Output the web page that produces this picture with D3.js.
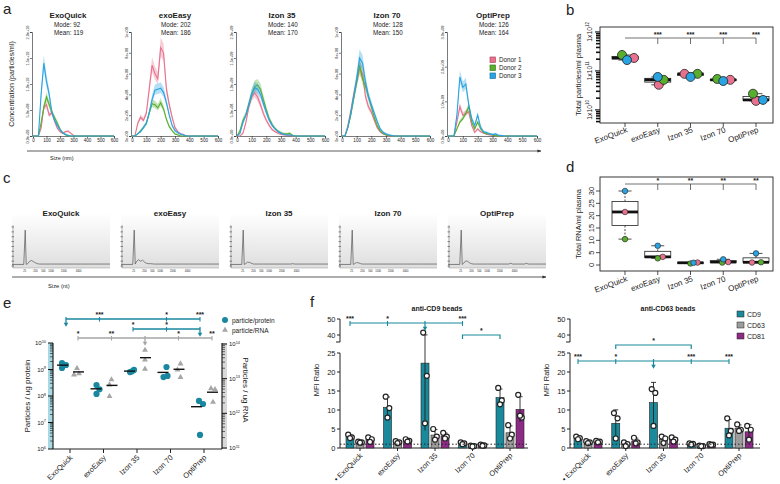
<!DOCTYPE html>
<html><head><meta charset="utf-8">
<script src="https://cdn.jsdelivr.net/npm/d3@7"></script>
<style>body{margin:0;background:#fff}svg{display:block}text{font-family:"Liberation Sans",Arial,sans-serif;fill:#222}</style>
</head><body><svg id="fig" width="780" height="484"></svg>
<script>
// ================= DATA =================
const methods = ["ExoQuick","exoEasy","Izon 35","Izon 70","OptiPrep"];
const donors = ["Donor 1","Donor 2","Donor 3"];
// (a) NTA size distributions, size in nm; rows = donor 1, 2, 3 (values in ntaUnit)
const ntaSizes = [0,20,40,60,80,100,120,140,160,180,200,220,240,260,280,300,320,340,360,380,400,500,600];
const ntaExoQuick = [
 [0,0,0,1.5,5.5,6,4,4.5,2.8,1.5,0.8,0.5,0.8,0.9,0.5,0.1,0,0,0,0,0,0,0],
 [0,0,0,2.5,5.5,7.5,6,4.5,3.5,2.5,1.3,0.6,0.2,0.1,0,0,0,0,0,0,0,0,0],
 [0,0,0,8,14,10.5,8,4.5,3,2,1.2,0.6,0.3,0.1,0,0,0,0,0,0,0,0,0]];
const ntaExoEasy = [
 [0,0,1.2,1.8,1.5,2.2,4.5,6.8,6,5.5,8.5,8,4.5,3,1.8,0.8,0.4,0.2,0.1,0,0,0,0],
 [0,0,0.2,0.5,0.8,1.2,2.2,3.1,3.0,2.7,3.2,2.6,1.6,0.9,0.5,0.2,0.1,0,0,0,0,0,0],
 [0,0,0.2,0.4,0.8,1.2,2.2,3.5,4.4,4.5,4.6,4.2,3.2,2.0,1.0,0.5,0.3,0.15,0.1,0,0,0,0]];
const ntaIzon35 = [
 [0,0,0.5,2.5,5.5,7.5,8.3,7.5,6,4.3,3,2,1.2,0.8,0.5,0.3,0.2,0.15,0.1,0,0,0,0],
 [0,1,3,4,6,8,9.5,9.8,9,7,5,3.3,2.2,1.4,0.9,0.6,0.4,0.4,0.5,0.1,0,0,0],
 [0,0.5,2.5,4,6,8,9.3,9.0,8,6.2,4.5,3,2,1.3,0.8,0.5,0.3,0.2,0.2,0.05,0,0,0]];
const ntaIzon70 = [
 [0,0,1.0,2.4,4.0,5.2,6.5,6.0,3.8,2.8,2.3,1.5,0.8,0.4,0.2,0.1,0,0,0,0,0,0,0],
 [0,0,0.8,2.0,3.6,5.2,6.8,5.5,4.8,3.8,2.8,1.8,1.0,0.5,0.25,0.1,0.05,0,0,0,0,0,0],
 [0,0,0.8,2.2,3.8,5.5,7.5,7.0,5.2,3.8,3.0,2.2,1.4,0.7,0.35,0.2,0.1,0.05,0,0,0,0,0]];
const ntaOptiPrep = [
 [0,0,0,4,8.5,6,6.5,7,3,1,2,1.2,0.8,0.5,0.3,0.2,0.1,0,0,0,0,0,0],
 [0,0,0,2,4,5,6.5,8.5,4,2,4,2,1,0.6,0.6,0.3,0.1,0,0,0,0,0,0],
 [0,0,0,6,17,14,15,9,5,3,6,2.5,1.2,1.0,0.6,0.4,0.6,0.2,0.1,0,0,0,0]];
const ntaUnit = [1e9,1e8,1e8,1e8,1e8];
const ntaYMax = [2e10,1e9,2e9,1e9,3e9];
const ntaYStep = [5e9,2e8,5e8,2e8,1e9];
const ntaModes = [92,202,140,128,126];
const ntaMeans = [119,186,170,150,164];

// (b) total particles / ml plasma; rows = method, cols = donor 1,2,3
const totalParticles = [
 [2.15e11,2.57e11,1.9e11],
 [4.4e10,5.9e10,7.0e10],
 [8.4e10,8.4e10,7.0e10],
 [5.9e10,6.2e10,5.5e10],
 [1.7e10,2.6e10,1.8e10]];
const particleStars = ["***","***","***","***"];

// (c) Bioanalyzer traces (relative migration position 0-100, fluorescence 0-100)
const traceX = [0,12,13.5,14.5,16,18,20,22,24,26,28,30,34,40,55,62,64,66,70,78,80,82,86,100];
const traceExoQuick = [4,4,92,4,6,12,14,11,8,6,5,5,5,5,5,5,5,5,5,5,5,5,5,5];
const traceExoEasy  = [4,4,92,5,12,16,12,15,10,7,6,6,5,5,5,5,5,5,5,5,5,5,5,5];
const traceIzon35   = [4,4,92,4,6,10,9,7,5,5,5,5,5,5,5,5,6,5,5,5,5,5,5,5];
const traceIzon70   = [4,4,92,4,6,9,8,6,5,5,5,5,5,5,5,5,5,5,5,5,5,5,5,5];
const traceOptiPrep = [4,4,92,4,7,13,12,8,6,5,5,5,5,5,5,5,7,5,5,5,7,5,5,5];
const traceTickLabels = ["25","200","500","1000","2000","4000"];

// (d) total RNA / ml plasma; rows = method, cols = donor 1,2,3
const totalRNA = [
 [21.5,10.5,30],
 [3.3,2.7,7.8],
 [1.0,0.6,0.9],
 [1.2,1.0,2.3],
 [1.0,1.1,4.7]];
const rnaStars = ["*","**","**","**"];

// (e) particles per ug protein / per ug RNA
const perProtein = [
 [1.76e9,1.48e9,1.14e9],
 [2.6e8,1.8e8,1.2e8],
 [8.0e8,9.6e8,8.5e8],
 [1.24e9,5.2e8,5.7e8],
 [6.5e7,5.0e7,3.4e6]];
const perRNA = [
 [2.0e13,1.3e13,1.4e13],
 [9.4e12,6.7e12,3.1e12],
 [6.7e13,3.5e13,1.9e13],
 [2.7e13,1.8e13,1.1e13],
 [5.2e12,4.9e12,2.1e12]];
const proteinBrackets = [
 {src:0, targets:[1,3,4], stars:["***","*","***"]},
 {src:4, targets:[2,3], stars:["*","*"]}];
const rnaBrackets = [
 {src:2, targets:[0,1,3,4], stars:["*","**","*","**"]}];

// (f) MFI ratios; rows = method, values per replicate
const markers = ["CD9","CD63","CD81"];
const cd9BeadsCD9  = [[3.5,2.8,2.6],[13.5,10.5,8.0],[41.5,19,6.5],[1.5,1.2,1.0],[15.8,12.5,11.5]];
const cd9BeadsCD63 = [[1.7,1.5,1.4],[1.8,1.5,1.3],[5.0,3.0,2.2],[0.6,0.5,0.4],[6.0,3.5,2.5]];
const cd9BeadsCD81 = [[2.8,2.3,1.6],[2.3,1.9,1.7],[4.0,3.0,2.5],[0.9,0.7,0.6],[14,8.0,8.5]];
const cd63BeadsCD9  = [[3.0,2.6,2.3],[9.2,7.8,2.5],[15.5,14.5,5.8],[1.2,1.1,0.9],[7.8,4.5,3.3]];
const cd63BeadsCD63 = [[1.8,1.5,1.3],[1.5,1.0,0.5],[3.0,2.5,1.3],[0.6,0.5,0.5],[6.2,4.8,4.5]];
const cd63BeadsCD81 = [[1.9,1.7,1.5],[2.7,1.5,1.2],[2.8,2.2,1.7],[1.0,0.9,0.8],[5.8,4.8,2.2]];
const cd9BeadBrackets = [
 {src:2, targets:[0,1,3], stars:["***","*","***"]},
 {pair:[3,4], star:"*"}];
const cd63BeadBrackets = [
 {src:2, targets:[0,1,3,4], stars:["***","*","***","***"]},
 {pair:[1,3], star:"*"}];

// ================= DRAWING =================
const svg = d3.select("#fig");
const donorColors = ["#e8728e","#5aae2e","#29a3e1"];
const donorStroke = ["#b04862","#3d7f1c","#1a76a8"];
const teal = "#1a899b", grayBar = "#9c9c9c", purple = "#8c2a85";
const eBlue = "#1a87a0", eGray = "#a6a6a6";

function panelLabel(t,x,y){ svg.append("text").attr("x",x).attr("y",y).attr("font-size",15).text(t); }
function powText(g,x,y,base,exp,size,anchor,rot){
  const t=g.append("text").attr("x",x).attr("y",y).attr("font-size",size).attr("text-anchor",anchor||"start");
  if(rot) t.attr("transform",`rotate(${rot},${x},${y})`);
  t.append("tspan").text(base);
  t.append("tspan").attr("dy",-size*0.4).attr("font-size",size*0.65).text(exp);
  return t;
}
function sciFmt(dec){
  return v=>{
    if(v===0) return dec?"0.0e+00":"0e+00";
    const e=Math.floor(Math.log10(v)+1e-9), m=v/Math.pow(10,e);
    return (dec?m.toFixed(1):m.toFixed(0))+"e+"+String(e).padStart(2,"0");
  };
}
function styleAxis(s,fs,sw){
  s.selectAll("text").attr("font-size",fs).attr("fill","#222");
  s.selectAll("line,path").attr("stroke","#222").attr("stroke-width",sw||0.8);
}
const defs=svg.append("defs");
defs.append("marker").attr("id","arr").attr("viewBox","0 0 10 10").attr("refX",9).attr("refY",5)
  .attr("markerWidth",5).attr("markerHeight",5).attr("orient","auto")
  .append("path").attr("d","M0,1L10,5L0,9Z").attr("fill","#333");
const grad=defs.append("linearGradient").attr("id","bag").attr("x1",0).attr("x2",0).attr("y1",0).attr("y2",1);
grad.append("stop").attr("offset","0%").attr("stop-color","#ffffff");
grad.append("stop").attr("offset","100%").attr("stop-color","#dedede");

// ---------- (a) ----------
panelLabel("a",3,14);
const aX0=[33,132,237,342,448], aW=[81,86,88,88,89], aTop=32, aBot=136;
const aTitleX=[68,175,282,387,493], aDec=[true,false,true,false,true];
const ntaSets=[ntaExoQuick,ntaExoEasy,ntaIzon35,ntaIzon70,ntaOptiPrep];
methods.forEach((m,i)=>{
  const x=d3.scaleLinear([0,600],[aX0[i],aX0[i]+aW[i]]);
  const y=d3.scaleLinear([0,ntaYMax[i]],[aBot,aTop]);
  const g=svg.append("g");
  g.append("text").attr("x",aTitleX[i]).attr("y",18).attr("text-anchor","middle").attr("font-size",8).attr("font-weight","bold").text(m);
  g.append("text").attr("x",aTitleX[i]-14).attr("y",27).attr("font-size",6.3).text("Mode: "+ntaModes[i]);
  g.append("text").attr("x",aTitleX[i]-14).attr("y",34.5).attr("font-size",6.3).text("Mean: "+ntaMeans[i]);
  g.append("g").attr("transform",`translate(0,${aBot})`)
    .call(d3.axisBottom(x).tickValues(d3.range(0,601,100)).tickSize(2).tickPadding(1).tickFormat(d3.format("d")))
    .call(s=>styleAxis(s,4.6,0.6));
  const ya=g.append("g").attr("transform",`translate(${aX0[i]-1},0)`)
    .call(d3.axisLeft(y).tickValues(d3.range(0,ntaYMax[i]*1.0001,ntaYStep[i])).tickSize(2).tickFormat(sciFmt(aDec[i])))
    .call(s=>styleAxis(s,3.8,0.6));
  ya.selectAll(".tick text").attr("x",0).attr("y",-3).attr("dy",0).attr("text-anchor","middle").attr("transform","rotate(-90)");
  ntaSets[i].forEach((vals,d)=>{
    const pts=ntaSizes.map((s,k)=>[s,vals[k]*ntaUnit[i]]);
    g.append("path").datum(pts).attr("fill",donorColors[d]).attr("opacity",0.35)
      .attr("d",d3.area().x(p=>x(p[0])).y0(p=>y(p[1]*0.9)).y1(p=>y(p[1]*1.1+(p[1]>0?ntaYMax[i]*0.01:0))));
    g.append("path").datum(pts).attr("fill","none").attr("stroke",donorColors[d]).attr("stroke-width",1.1)
      .attr("d",d3.line().x(p=>x(p[0])).y(p=>y(p[1])));
  });
});
svg.append("text").attr("transform","translate(14,84) rotate(-90)").attr("text-anchor","middle").attr("font-size",7).text("Concentration (particles/ml)");
svg.append("line").attr("x1",27).attr("x2",541).attr("y1",151).attr("y2",151).attr("stroke","#333").attr("stroke-width",0.8).attr("marker-end","url(#arr)");
svg.append("text").attr("x",50).attr("y",160).attr("font-size",5.5).text("Size (nm)");
const aLeg=svg.append("g");
donors.forEach((d,k)=>{
  aLeg.append("rect").attr("x",490).attr("y",57+k*8).attr("width",5.5).attr("height",5.5).attr("fill",donorColors[k]).attr("stroke",donorStroke[k]).attr("stroke-width",0.7);
  aLeg.append("text").attr("x",499).attr("y",62+k*8).attr("font-size",6.3).text(d);
});

// ---------- (b) ----------
panelLabel("b",566,15);
function rBox(g,vals,cx,y,w){
  const s=vals.slice().sort(d3.ascending);
  const lo=(s[0]+s[1])/2, hi=(s[1]+s[2])/2, med=s[1];
  g.append("line").attr("x1",cx).attr("x2",cx).attr("y1",y(hi)).attr("y2",y(s[2])).attr("stroke","#222").attr("stroke-width",0.8).attr("stroke-dasharray","2,1.5");
  g.append("line").attr("x1",cx).attr("x2",cx).attr("y1",y(lo)).attr("y2",y(s[0])).attr("stroke","#222").attr("stroke-width",0.8).attr("stroke-dasharray","2,1.5");
  g.append("line").attr("x1",cx-w/4).attr("x2",cx+w/4).attr("y1",y(s[2])).attr("y2",y(s[2])).attr("stroke","#222").attr("stroke-width",0.8);
  g.append("line").attr("x1",cx-w/4).attr("x2",cx+w/4).attr("y1",y(s[0])).attr("y2",y(s[0])).attr("stroke","#222").attr("stroke-width",0.8);
  g.append("rect").attr("x",cx-w/2).attr("y",y(hi)).attr("width",w).attr("height",Math.max(0.5,y(lo)-y(hi))).attr("fill","#fff").attr("stroke","#222").attr("stroke-width",0.8);
  g.append("line").attr("x1",cx-w/2).attr("x2",cx+w/2).attr("y1",y(med)).attr("y2",y(med)).attr("stroke","#111").attr("stroke-width",2.8);
}
function starBracket(g,xs,yLine,stars,x0){
  g.append("line").attr("x1",x0).attr("x2",xs[xs.length-1]).attr("y1",yLine).attr("y2",yLine).attr("stroke","#333").attr("stroke-width",0.7);
  xs.forEach((x,k)=>{
    g.append("line").attr("x1",x).attr("x2",x).attr("y1",yLine).attr("y2",yLine+6).attr("stroke","#333").attr("stroke-width",0.7);
    g.append("text").attr("x",x).attr("y",yLine-1.5).attr("text-anchor","middle").attr("font-size",7).attr("font-weight","bold").text(stars[k]);
  });
}
{
  const L=600,R=773,T=27,B=123;
  const g=svg.append("g");
  const x=d3.scalePoint(methods,[625,756]);
  const y=d3.scaleLog([4.6e9,1.34e12],[B,T]);
  const bJit=[[9,-3,2],[1,6,0],[-6,7,0],[7,-6,0],[0,-3,7]];
  g.append("rect").attr("x",L).attr("y",T).attr("width",R-L).attr("height",B-T).attr("fill","none").attr("stroke","#222").attr("stroke-width",0.9);
  [1e10,1e11,1e12].forEach(v=>{
    g.append("line").attr("x1",L-5).attr("x2",L).attr("y1",y(v)).attr("y2",y(v)).attr("stroke","#222").attr("stroke-width",1.2);
    powText(g,L-8,y(v),"1x10",String(Math.log10(v)),6.8,"middle",-90);
  });
  [1e9,1e10,1e11].forEach(dec=>d3.range(2,10).forEach(k=>{
    const v=dec*k; if(v<4.6e9||v>1.34e12) return;
    g.append("line").attr("x1",L-4).attr("x2",L).attr("y1",y(v)).attr("y2",y(v)).attr("stroke","#111").attr("stroke-width",1.6);
  }));
  g.append("text").attr("transform",`translate(581,75) rotate(-90)`).attr("text-anchor","middle").attr("font-size",7.5).text("Total particles/ml plasma");
  methods.forEach((m,i)=>{
    g.append("line").attr("x1",x(m)).attr("x2",x(m)).attr("y1",B).attr("y2",B+4).attr("stroke","#222").attr("stroke-width",0.8);
    g.append("text").attr("transform",`translate(${x(m)+3},${B+9}) rotate(-20)`).attr("text-anchor","end").attr("font-size",8).text(m);
    rBox(g,totalParticles[i],x(m),y,26);
  });
  starBracket(g,methods.slice(1).map(m=>x(m)),38,particleStars,x(methods[0]));
  methods.forEach((m,i)=>totalParticles[i].forEach((v,d)=>{
    g.append("circle").attr("cx",x(m)+bJit[i][d]).attr("cy",y(v)).attr("r",4.5).attr("fill",donorColors[d]).attr("stroke","#222").attr("stroke-width",0.8);
  }));
}

// ---------- (c) ----------
panelLabel("c",3,183);
{
  const cX0=[12,121,230,339,448], cW=98, cT=225, cB=268;
  const traces=[traceExoQuick,traceExoEasy,traceIzon35,traceIzon70,traceOptiPrep];
  const tickPos=[13,24,32,40,53,68];
  methods.forEach((m,i)=>{
    const g=svg.append("g");
    const x=d3.scaleLinear([0,100],[cX0[i],cX0[i]+cW]);
    const y=d3.scaleLinear([0,100],[266,227]);
    g.append("rect").attr("x",cX0[i]).attr("y",cT-12).attr("width",cW).attr("height",cB-cT+12).attr("fill","url(#bag)");
    g.append("text").attr("x",cX0[i]+cW/2).attr("y",216).attr("text-anchor","middle").attr("font-size",8).attr("font-weight","bold").text(m);
    g.append("line").attr("x1",cX0[i]+1).attr("x2",cX0[i]+1).attr("y1",cT).attr("y2",cB).attr("stroke","#777").attr("stroke-width",0.5);
    g.append("line").attr("x1",cX0[i]+1).attr("x2",cX0[i]+cW).attr("y1",cB).attr("y2",cB).attr("stroke","#999").attr("stroke-width",0.5);
    d3.range(0,101,12.5).forEach(v=>g.append("line").attr("x1",cX0[i]-0.5).attr("x2",cX0[i]+2).attr("y1",y(v)).attr("y2",y(v)).attr("stroke","#444").attr("stroke-width",0.6));
    tickPos.forEach((p,k)=>g.append("text").attr("x",x(p)).attr("y",cB+3.5).attr("text-anchor","middle").attr("font-size",2.6).attr("fill","#555").text(traceTickLabels[k]));
    g.append("path").datum(traceX.map((t,k)=>[t,traces[i][k]])).attr("fill","none").attr("stroke","#555").attr("stroke-width",0.7)
      .attr("d",d3.line().x(p=>x(p[0])).y(p=>y(p[1])));
  });
  svg.append("line").attr("x1",12).attr("x2",546).attr("y1",277).attr("y2",277).attr("stroke","#333").attr("stroke-width",0.8).attr("marker-end","url(#arr)");
  svg.append("text").attr("x",48).attr("y",288).attr("font-size",5.8).text("Size (nt)");
}

// ---------- (d) ----------
panelLabel("d",566,172);
{
  const L=600,R=773,T=177,B=271;
  const g=svg.append("g");
  const x=d3.scalePoint(methods,[625,756]);
  const y=d3.scaleLinear([0,30],[265,191]);
  const dJit=[[0,0,0],[5,0,0],[7,0,3],[5,-1,0],[-4,5,0]];
  g.append("rect").attr("x",L).attr("y",T).attr("width",R-L).attr("height",B-T).attr("fill","none").attr("stroke","#222").attr("stroke-width",0.9);
  y.ticks(6).forEach(v=>{
    g.append("line").attr("x1",L-4).attr("x2",L).attr("y1",y(v)).attr("y2",y(v)).attr("stroke","#222").attr("stroke-width",0.8);
    g.append("text").attr("transform",`translate(${L-6},${y(v)}) rotate(-90)`).attr("text-anchor","middle").attr("font-size",7.5).text(v);
  });
  g.append("text").attr("transform",`translate(581,224) rotate(-90)`).attr("text-anchor","middle").attr("font-size",7.5).text("Total RNA/ml plasma");
  methods.forEach((m,i)=>{
    g.append("line").attr("x1",x(m)).attr("x2",x(m)).attr("y1",B).attr("y2",B+4).attr("stroke","#222").attr("stroke-width",0.8);
    g.append("text").attr("transform",`translate(${x(m)+3},${B+10}) rotate(-20)`).attr("text-anchor","end").attr("font-size",8).text(m);
    rBox(g,totalRNA[i],x(m),y,26);
  });
  starBracket(g,methods.slice(1).map(m=>x(m)),184,rnaStars,x(methods[0]));
  methods.forEach((m,i)=>totalRNA[i].forEach((v,d)=>{
    g.append("circle").attr("cx",x(m)+dJit[i][d]).attr("cy",y(v)).attr("r",2.8).attr("fill",donorColors[d]).attr("stroke","#222").attr("stroke-width",0.6);
  }));
}

// ---------- (e) ----------
panelLabel("e",3,308);
{
  const L=53,R=222,T=343,B=449;
  const g=svg.append("g");
  const x=d3.scalePoint(methods,[70,204]);
  const yL=d3.scaleLog([1e6,1e10],[449,343]);
  const yR=d3.scaleLog([1e11,1e14],[448,344]);
  const cOff=[[-8,-4,-8],[-7,-4,-7],[-7,-3,-5],[-4,-7,-3],[-5,-1,-4]];
  const tOff=[[7,4,9],[8,6,6],[8,8,8],[10,7,10],[7,11,9]];
  g.append("rect").attr("x",L-5).attr("y",T).attr("width",5).attr("height",B-T).attr("fill","#a7d8e3");
  g.append("rect").attr("x",R).attr("y",T).attr("width",5).attr("height",B-T).attr("fill","#d8d8d8");
  g.append("line").attr("x1",L).attr("x2",L).attr("y1",T).attr("y2",B).attr("stroke","#222").attr("stroke-width",1.2);
  g.append("line").attr("x1",R).attr("x2",R).attr("y1",T).attr("y2",B).attr("stroke","#222").attr("stroke-width",1.2);
  g.append("line").attr("x1",L).attr("x2",R).attr("y1",B).attr("y2",B).attr("stroke","#222").attr("stroke-width",1.2);
  [1e6,1e7,1e8,1e9,1e10].forEach(v=>{
    g.append("line").attr("x1",L-5).attr("x2",L).attr("y1",yL(v)).attr("y2",yL(v)).attr("stroke","#111").attr("stroke-width",1);
    powText(g,L-7,yL(v)+2,"10",String(Math.log10(v)),6,"end");
    if(v<1e10) d3.range(2,10).forEach(k=>g.append("line").attr("x1",L-3).attr("x2",L).attr("y1",yL(v*k)).attr("y2",yL(v*k)).attr("stroke","#111").attr("stroke-width",0.6));
  });
  [1e11,1e12,1e13,1e14].forEach(v=>{
    g.append("line").attr("x1",R).attr("x2",R+5).attr("y1",yR(v)).attr("y2",yR(v)).attr("stroke","#111").attr("stroke-width",1);
    powText(g,R+7,yR(v)+2,"10",String(Math.log10(v)),6,"start");
    if(v<1e14) d3.range(2,10).forEach(k=>g.append("line").attr("x1",R).attr("x2",R+3).attr("y1",yR(v*k)).attr("y2",yR(v*k)).attr("stroke","#111").attr("stroke-width",0.6));
  });
  g.append("text").attr("transform","translate(30,396) rotate(-90)").attr("text-anchor","middle").attr("font-size",8).text("Particles / ug protein");
  g.append("text").attr("transform","translate(243,390) rotate(90)").attr("text-anchor","middle").attr("font-size",8).text("Particles / ug RNA");
  methods.forEach((m,i)=>{
    g.append("line").attr("x1",x(m)).attr("x2",x(m)).attr("y1",B).attr("y2",B+4).attr("stroke","#222").attr("stroke-width",1);
    g.append("text").attr("transform",`translate(${x(m)+3},${B+9}) rotate(-45)`).attr("text-anchor","end").attr("font-size",7.5).text(m);
    perProtein[i].forEach((v,d)=>g.append("circle").attr("cx",x(m)+cOff[i][d]).attr("cy",yL(v)).attr("r",3.1).attr("fill",eBlue));
    perRNA[i].forEach((v,d)=>g.append("path").attr("transform",`translate(${x(m)+tOff[i][d]},${yR(v)})`).attr("d",d3.symbol(d3.symbolTriangle,15)()).attr("fill",eGray));
    const mp=d3.mean(perProtein[i]), mr=d3.mean(perRNA[i]);
    g.append("line").attr("x1",x(m)-13).attr("x2",x(m)-2).attr("y1",yL(mp)).attr("y2",yL(mp)).attr("stroke","#111").attr("stroke-width",1.4);
    g.append("line").attr("x1",x(m)+3).attr("x2",x(m)+14).attr("y1",yR(mr)).attr("y2",yR(mr)).attr("stroke","#111").attr("stroke-width",1.4);
  });
  function eBracket(br,yLine,col,off){
    const xs=[br.src].concat(br.targets).map(k=>x(methods[k])+off);
    g.append("line").attr("x1",d3.min(xs)).attr("x2",d3.max(xs)).attr("y1",yLine).attr("y2",yLine).attr("stroke",col).attr("stroke-width",1.3);
    g.append("line").attr("x1",x(methods[br.src])+off).attr("x2",x(methods[br.src])+off).attr("y1",yLine-2).attr("y2",yLine+6).attr("stroke",col).attr("stroke-width",1.3);
    g.append("path").attr("transform",`translate(${x(methods[br.src])+off},${yLine+5}) rotate(180)`).attr("d",d3.symbol(d3.symbolTriangle,9)()).attr("fill",col);
    br.targets.forEach((k,j)=>{
      const xx=x(methods[k])+off;
      g.append("line").attr("x1",xx).attr("x2",xx).attr("y1",yLine-2).attr("y2",yLine+2.5).attr("stroke",col).attr("stroke-width",1.1);
      g.append("text").attr("x",xx).attr("y",yLine-2.5).attr("text-anchor","middle").attr("font-size",7).attr("font-weight","bold").text(br.stars[j]);
    });
  }
  eBracket(proteinBrackets[0],319,eBlue,-4);
  eBracket(proteinBrackets[1],329,eBlue,-4);
  eBracket(rnaBrackets[0],338,eGray,8);
  g.append("circle").attr("cx",225).attr("cy",320).attr("r",3).attr("fill",eBlue);
  g.append("text").attr("x",232).attr("y",322.5).attr("font-size",6.5).text("particle/protein");
  g.append("path").attr("transform","translate(225,330)").attr("d",d3.symbol(d3.symbolTriangle,15)()).attr("fill",eGray);
  g.append("text").attr("x",232).attr("y",332.5).attr("font-size",6.5).text("particle/RNA");
}

// ---------- (f) ----------
panelLabel("f",310,307);
function barChart(x0,x1,range,title,sets,brackets){
  const g=svg.append("g");
  const x=d3.scalePoint(methods,range);
  const yL=d3.scaleLinear([0,25],[448,353]);
  const yU=d3.scaleLinear([40,50],[335,319]);
  const yF=v=>v<=25?yL(v):yU(v);
  const B=448;
  g.append("text").attr("x",(x0+x1)/2+3).attr("y",311).attr("text-anchor","middle").attr("font-size",7).attr("font-weight","bold").text(title);
  g.append("line").attr("x1",x0).attr("x2",x0).attr("y1",319).attr("y2",342).attr("stroke","#222").attr("stroke-width",1);
  g.append("line").attr("x1",x0-4).attr("x2",x0).attr("y1",342).attr("y2",342).attr("stroke","#222").attr("stroke-width",1);
  g.append("line").attr("x1",x0).attr("x2",x0).attr("y1",353).attr("y2",B).attr("stroke","#222").attr("stroke-width",1);
  g.append("line").attr("x1",x0).attr("x2",x1).attr("y1",B).attr("y2",B).attr("stroke","#222").attr("stroke-width",1);
  [0,5,10,15,20,25,40,50].forEach(v=>{
    g.append("line").attr("x1",x0-3).attr("x2",x0).attr("y1",yF(v)).attr("y2",yF(v)).attr("stroke","#222").attr("stroke-width",1);
    g.append("text").attr("x",x0-4.5).attr("y",yF(v)+2.6).attr("text-anchor","end").attr("font-size",7.5).text(v);
  });
  g.append("text").attr("transform",`translate(${x0-21},380) rotate(-90)`).attr("text-anchor","middle").attr("font-size",7.5).text("MFI Ratio");
  const cols=[teal,grayBar,purple], offs=[-10,0,10], jit=[-1.8,1.8,0];
  methods.forEach((m,i)=>{
    g.append("line").attr("x1",x(m)).attr("x2",x(m)).attr("y1",B).attr("y2",B+3).attr("stroke","#222").attr("stroke-width",1);
    g.append("text").attr("transform",`translate(${x(m)+3},${B+8}) rotate(-45)`).attr("text-anchor","end").attr("font-size",7.5).text((i===0?"• ":"")+m);
    sets.forEach((set,s)=>{
      const vals=set[i], mu=d3.mean(vals), sd=d3.deviation(vals), cx=x(m)+offs[s];
      g.append("rect").attr("x",cx-4).attr("y",yF(mu)).attr("width",8).attr("height",B-yF(mu)).attr("fill",cols[s]).attr("stroke","#222").attr("stroke-width",0.6);
      g.append("line").attr("x1",cx).attr("x2",cx).attr("y1",yF(mu+sd)).attr("y2",yF(Math.max(0,mu-sd))).attr("stroke","#222").attr("stroke-width",0.9);
      g.append("line").attr("x1",cx-2.5).attr("x2",cx+2.5).attr("y1",yF(mu+sd)).attr("y2",yF(mu+sd)).attr("stroke","#222").attr("stroke-width",0.9);
      vals.forEach((v,k)=>g.append("circle").attr("cx",cx+jit[k]).attr("cy",yF(v)).attr("r",2.5).attr("fill","#fff").attr("stroke","#222").attr("stroke-width",1.2));
    });
  });
  g.append("line").attr("x1",x0).attr("x2",x1).attr("y1",yL(1)).attr("y2",yL(1)).attr("stroke","#222").attr("stroke-width",1).attr("stroke-dasharray","1.5,2");
  brackets.forEach(br=>{
    if(br.pair){
      const xa=x(methods[br.pair[0]])-10, xb=x(methods[br.pair[1]])-10, yy=br.y;
      g.append("path").attr("d",`M${xa},${yy+4}V${yy}H${xb}V${yy+4}`).attr("fill","none").attr("stroke",teal).attr("stroke-width",1.2);
      g.append("text").attr("x",(xa+xb)/2).attr("y",yy-2).attr("text-anchor","middle").attr("font-size",7).attr("font-weight","bold").text(br.star);
    } else {
      const yy=br.y;
      const xs=[br.src].concat(br.targets).map(k=>x(methods[k])-10);
      g.append("line").attr("x1",d3.min(xs)).attr("x2",d3.max(xs)).attr("y1",yy).attr("y2",yy).attr("stroke",teal).attr("stroke-width",1.2);
      const sx=x(methods[br.src])-10;
      g.append("line").attr("x1",sx).attr("x2",sx).attr("y1",yy-2).attr("y2",yy+5).attr("stroke",teal).attr("stroke-width",1.2);
      g.append("path").attr("transform",`translate(${sx},${yy+5}) rotate(180)`).attr("d",d3.symbol(d3.symbolTriangle,9)()).attr("fill",teal);
      br.targets.forEach((k,j)=>{
        const xx=x(methods[k])-10;
        g.append("line").attr("x1",xx).attr("x2",xx).attr("y1",yy-2).attr("y2",yy+3).attr("stroke",teal).attr("stroke-width",1.1);
        g.append("text").attr("x",xx).attr("y",yy-2).attr("text-anchor","middle").attr("font-size",7).attr("font-weight","bold").text(br.stars[j]);
      });
    }
  });
}
cd9BeadBrackets[0].y=323; cd9BeadBrackets[1].y=335;
cd63BeadBrackets[0].y=361; cd63BeadBrackets[1].y=345;
barChart(340,528,[360,510],"anti-CD9 beads",[cd9BeadsCD9,cd9BeadsCD63,cd9BeadsCD81],cd9BeadBrackets);
barChart(570,760,[588,739],"anti-CD63 beads",[cd63BeadsCD9,cd63BeadsCD63,cd63BeadsCD81],cd63BeadBrackets);
{
  const cols=[teal,grayBar,purple];
  markers.forEach((mk,k)=>{
    svg.append("rect").attr("x",737).attr("y",311+k*11).attr("width",7).attr("height",6).attr("fill",cols[k]).attr("stroke","#222").attr("stroke-width",0.5);
    svg.append("text").attr("x",747).attr("y",317+k*11).attr("font-size",7).text(mk);
  });
}
</script></body></html>
